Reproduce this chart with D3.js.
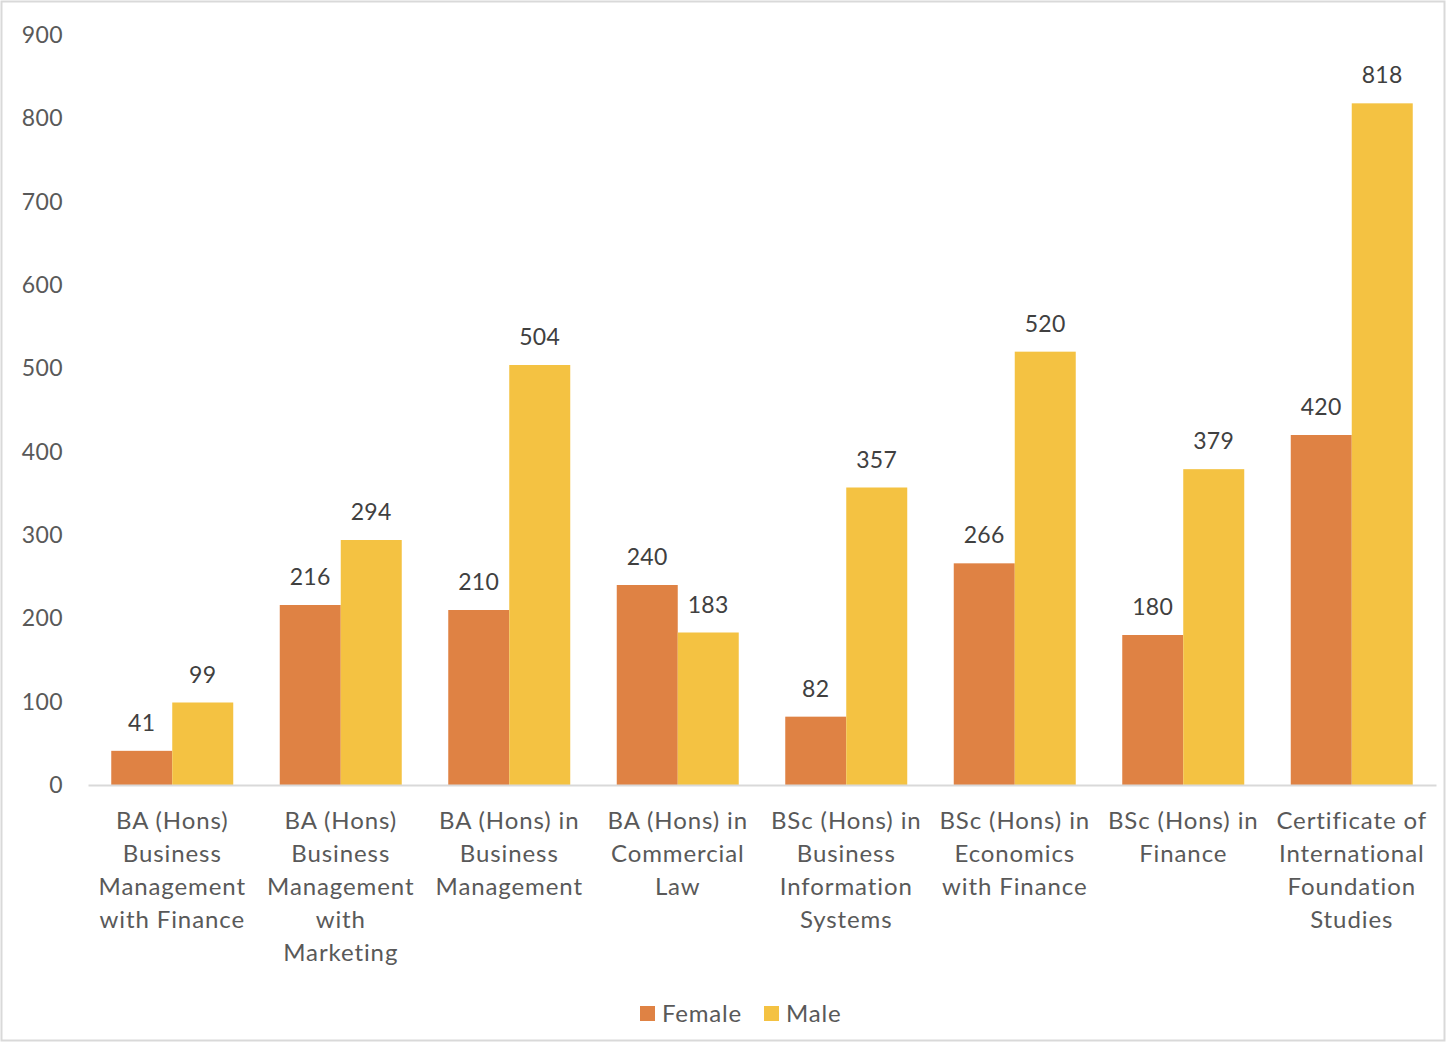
<!DOCTYPE html>
<html>
<head>
<meta charset="utf-8">
<script src="https://cdn.jsdelivr.net/npm/d3@7"></script>
<style>
  body { margin: 0; background: #fff; }
  text { font-family: Lato, "Open Sans", sans-serif; }
</style>
</head>
<body>
<div id="vis"></div>
<script>
// chart data
var categories = [
  ["BA (Hons)", "Business", "Management", "with Finance"],
  ["BA (Hons)", "Business", "Management", "with", "Marketing"],
  ["BA (Hons) in", "Business", "Management"],
  ["BA (Hons) in", "Commercial", "Law"],
  ["BSc (Hons) in", "Business", "Information", "Systems"],
  ["BSc (Hons) in", "Economics", "with Finance"],
  ["BSc (Hons) in", "Finance"],
  ["Certificate of", "International", "Foundation", "Studies"]
];
var female = [41, 216, 210, 240, 82, 266, 180, 420];
var male = [99, 294, 504, 183, 357, 520, 379, 818];
var seriesNames = ["Female", "Male"];
var seriesColors = ["#DF8244", "#F4C242"];
var yTicks = [0, 100, 200, 300, 400, 500, 600, 700, 800, 900];

// svg properties
var svgWidth = 1446;
var svgHeight = 1042;

var svg = d3.select('#vis').append('svg')
  .attr('width', svgWidth)
  .attr('height', svgHeight);

// outer frame
svg.append('rect')
  .attr('x', 1.5)
  .attr('y', 1.5)
  .attr('width', svgWidth - 3)
  .attr('height', svgHeight - 3)
  .attr('fill', 'white')
  .attr('stroke', '#D9D9D9')
  .attr('stroke-width', 2);

// plot area
var plot = {left: 88, right: 1436, top: 35, bottom: 785};

var keys = categories.map(function (d, i) { return 'c' + i; });

var x0 = d3.scaleBand()
  .domain(keys)
  .range([plot.left, plot.right])
  .paddingInner(0.276)
  .paddingOuter(0.138);

var x1 = d3.scaleBand()
  .domain(seriesNames)
  .range([0, x0.bandwidth()]);

var y = d3.scaleLinear()
  .domain([0, 900])
  .range([plot.bottom, plot.top]);

// y axis labels (no line)
var yAxis = svg.append('g')
  .attr('transform', 'translate(63,0)')
  .call(d3.axisLeft(y).tickValues(yTicks).tickSize(0).tickPadding(0));
yAxis.select('.domain').remove();
yAxis.selectAll('text')
  .attr('fill', '#595959')
  .style('font-size', '23px')
  .style('letter-spacing', '0.4px')
  .attr('dy', '0.33em');

// bars
var data = keys.map(function (k, i) {
  return {key: k, values: [female[i], male[i]]};
});

var groups = svg.selectAll('.group')
  .data(data)
  .enter().append('g')
  .attr('class', 'group')
  .attr('transform', function (d) { return 'translate(' + x0(d.key) + ',0)'; });

groups.selectAll('rect')
  .data(function (d) { return d.values.map(function (v, j) { return {name: seriesNames[j], value: v, j: j}; }); })
  .enter().append('rect')
  .attr('x', function (d) { return x1(d.name); })
  .attr('y', function (d) { return y(d.value); })
  .attr('width', x1.bandwidth())
  .attr('height', function (d) { return y(0) - y(d.value); })
  .attr('fill', function (d) { return seriesColors[d.j]; });

// data labels
groups.selectAll('.label')
  .data(function (d) { return d.values.map(function (v, j) { return {name: seriesNames[j], value: v}; }); })
  .enter().append('text')
  .attr('class', 'label')
  .attr('x', function (d) { return x1(d.name) + x1.bandwidth() / 2; })
  .attr('y', function (d) { return y(d.value) - 20; })
  .attr('text-anchor', 'middle')
  .attr('fill', '#404040')
  .style('font-size', '23px')
  .style('letter-spacing', '0.4px')
  .text(function (d) { return d.value; });

// x axis line
var xAxis = svg.append('g')
  .attr('transform', 'translate(0,' + plot.bottom + ')')
  .call(d3.axisBottom(x0).tickSize(0).tickFormat(''));
xAxis.select('.domain')
  .attr('stroke', '#D9D9D9')
  .attr('stroke-width', 2);

// category labels, wrapped
xAxis.selectAll('.tick text').remove();
xAxis.selectAll('.tick').each(function (k, i) {
  var t = d3.select(this).append('text')
    .attr('text-anchor', 'middle')
    .attr('fill', '#595959')
    .style('font-size', '24px')
    .style('letter-spacing', '0.9px');
  categories[i].forEach(function (line, li) {
    t.append('tspan')
      .attr('x', 0)
      .attr('y', 44 + li * 33)
      .text(line);
  });
});

// legend
var legend = svg.append('g')
  .attr('transform', 'translate(640,1006)');
var legendX = [0, 124];
seriesNames.forEach(function (name, i) {
  var g = legend.append('g').attr('transform', 'translate(' + legendX[i] + ',0)');
  g.append('rect')
    .attr('width', 15)
    .attr('height', 15)
    .attr('fill', seriesColors[i]);
  g.append('text')
    .attr('x', 22)
    .attr('y', 16)
    .attr('fill', '#595959')
    .style('font-size', '24px')
    .style('letter-spacing', '0.8px')
    .text(name);
});
</script>
</body>
</html>
